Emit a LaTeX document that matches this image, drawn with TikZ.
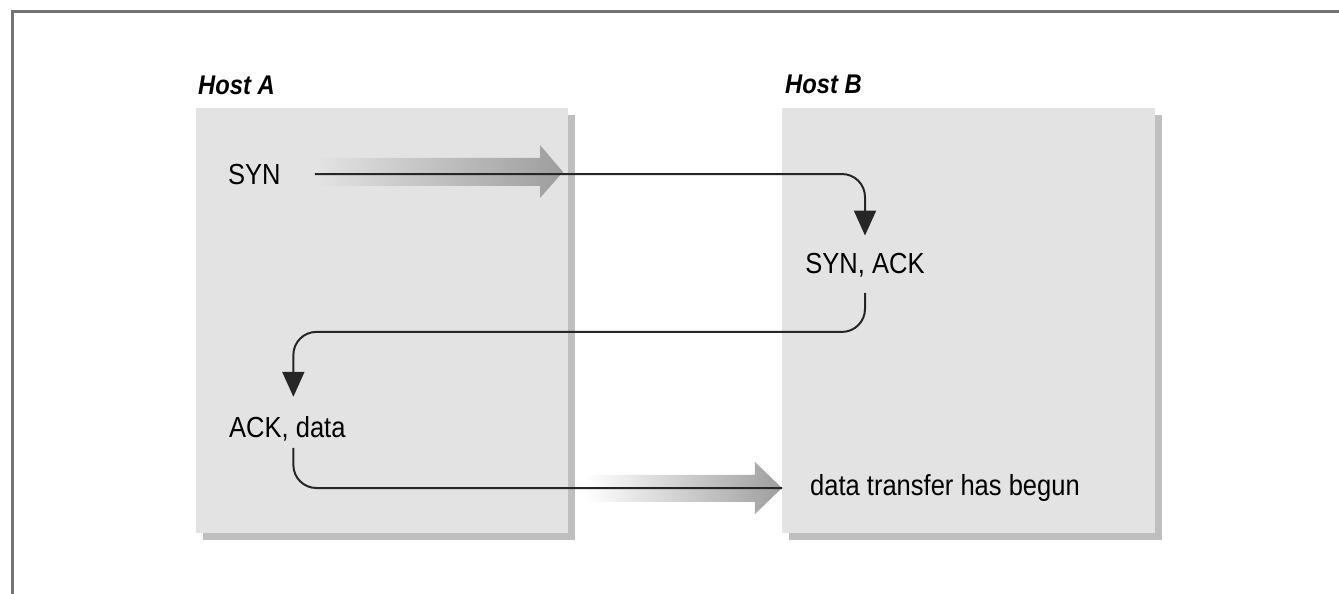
\documentclass[tikz,border=0pt]{standalone}
\usepackage{fontspec}
\setmainfont{Liberation Sans}[FakeStretch=0.88]
\usetikzlibrary{arrows.meta,shadows,fadings}

\tikzfading[name=fadeleft, left color=transparent!100, right color=transparent!0]

\begin{document}
\begin{tikzpicture}[x=1pt, y=-1pt,
    hostbox/.style={rectangle, fill=black!11, anchor=north west,
        minimum width=372pt, minimum height=425pt,
        drop shadow={shadow xshift=7pt, shadow yshift=-7pt, fill=black!25, opacity=1}},
    hostlabel/.style={anchor=base west, inner sep=0pt, font=\fontsize{27}{30}\selectfont\bfseries\itshape},
    msg/.style={inner sep=0pt, font=\fontsize{29}{32}\selectfont},
    flow/.style={draw=black!85, line width=2pt, rounded corners=23pt},
    flowtip/.style={flow, -{Triangle[width=22pt,length=25pt]}},
    bigarrow/.style={fill=black!38, path fading=fadeleft}]
    \useasboundingbox (0,0) rectangle (1339,594);

    % frame
    \draw[black!55, line width=3pt] (12,594) -- (12,12) -- (1339,12);

    % hosts
    \node[hostbox] (boxA) at (196,108) {};
    \node[hostbox, minimum width=373pt] (boxB) at (782,108) {};
    \node[hostlabel] (hostA) at ([shift={(2pt,13pt)}]boxA.north west) {Host A};
    \node[hostlabel] (hostB) at ([shift={(3pt,15pt)}]boxB.north west) {Host B};

    % messages
    \node[msg, anchor=base west] (syn) at (228,184) {SYN};
    \node[msg, anchor=base] (synack) at (865,273) {SYN, ACK};
    \node[msg, anchor=base west] (ackdata) at (229,437) {ACK, data};
    \node[msg, anchor=west] (datatx) at (810,488) {data transfer has begun};

    % grey arrows
    \fill[bigarrow] (318,158) -- (540,158) -- (540,145) -- (563,172)
        -- (540,198) -- (540,186) -- (318,186) -- cycle;
    \fill[bigarrow] (585,475) -- (755,475) -- (755,462) -- (782,488)
        -- (755,514) -- (755,502) -- (585,502) -- cycle;

    % handshake
    \draw[flowtip] ([xshift=34pt]syn.east) -| ([yshift=17pt]synack.north);
    \draw[flowtip] ([yshift=-16pt]synack.south) -- ++(0,39)
        -| ([xshift=6pt,yshift=19pt]ackdata.north);
    \draw[flow] ([xshift=6pt,yshift=-7pt]ackdata.south) |- ([xshift=-28pt]datatx.west);
\end{tikzpicture}
\end{document}
